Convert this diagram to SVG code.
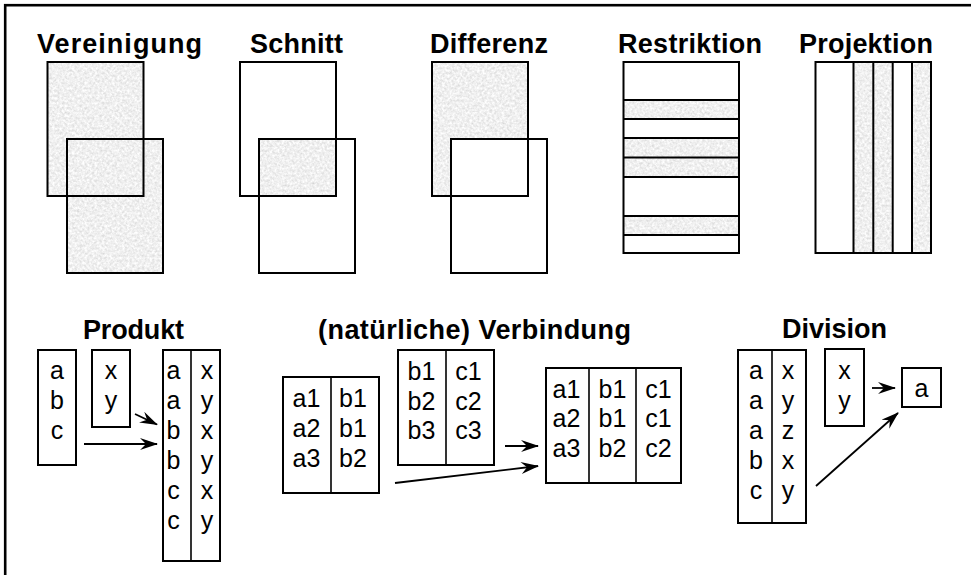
<svg xmlns="http://www.w3.org/2000/svg" width="971" height="575" viewBox="0 0 971 575">
  <defs>
    <style>
      .title { font-family: "Liberation Sans", Arial, sans-serif; font-weight: bold; font-size: 27px; fill: #000; }
      .cell { font-family: "Liberation Sans", Arial, sans-serif; font-size: 25px; fill: #000; text-anchor: middle; }
      .box { fill: none; stroke: #000; stroke-width: 2; }
      .rule { stroke: #000; stroke-width: 1.6; }
      .shade { fill: #000; filter: url(#grain); }
      .arrow { fill: none; stroke: #000; stroke-width: 1.8; marker-end: url(#head); }
    </style>
    <!-- light grey speckled fill, clipped to the shape it is applied to -->
    <filter id="grain" x="0" y="0" width="1" height="1" color-interpolation-filters="sRGB">
      <feTurbulence type="fractalNoise" baseFrequency="0.4" numOctaves="3" seed="7" result="noise"/>
      <feColorMatrix in="noise" type="matrix" values="0.22 0 0 0 0.83  0.22 0 0 0 0.83  0.22 0 0 0 0.83  0 0 0 0 1" result="grey"/>
      <feComposite in="grey" in2="SourceGraphic" operator="in"/>
    </filter>
    <marker id="head" markerUnits="userSpaceOnUse" markerWidth="20" markerHeight="14" refX="17" refY="6" orient="auto">
      <path d="M0,0 L18,6 L0,12 L6,6 Z" fill="#000"/>
    </marker>
  </defs>

  <rect width="971" height="575" fill="#fff"/>
  <!-- outer frame (only top and left edges fall inside the canvas) -->
  <rect x="5.2" y="5.2" width="1000" height="620" fill="none" stroke="#000" stroke-width="2.6"/>

  <!-- Set operations -->
  <g id="vereinigung">
    <text class="title" x="37" y="53" textLength="165" lengthAdjust="spacing">Vereinigung</text>
    <g class="shade">
      <rect x="47.5" y="62" width="96" height="134"/>
      <rect x="67" y="139" width="96" height="134"/>
    </g>
    <rect class="box" x="47.5" y="62" width="96" height="134"/>
    <rect class="box" x="67" y="139" width="96" height="134"/>
  </g>

  <g id="schnitt">
    <text class="title" x="250" y="53" textLength="93" lengthAdjust="spacing">Schnitt</text>
    <rect class="shade" x="259" y="139" width="77" height="57"/>
    <rect class="box" x="240" y="62" width="96" height="134"/>
    <rect class="box" x="259" y="139" width="96" height="134"/>
  </g>

  <g id="differenz">
    <text class="title" x="430" y="53" textLength="118" lengthAdjust="spacing">Differenz</text>
    <path class="shade" d="M432,62 H528 V139 H451 V196 H432 Z"/>
    <rect class="box" x="432" y="62" width="96" height="134"/>
    <rect class="box" x="451" y="139" width="96" height="134"/>
  </g>

  <g id="restriktion">
    <text class="title" x="618" y="53" textLength="144" lengthAdjust="spacing">Restriktion</text>
    <rect class="shade" x="623.5" y="100" width="115.5" height="19"/>
    <rect class="shade" x="623.5" y="138" width="115.5" height="39"/>
    <rect class="shade" x="623.5" y="216" width="115.5" height="19"/>
    <rect class="box" x="623.5" y="62" width="115.5" height="191"/>
    <g class="box">
      <line x1="623.5" y1="100" x2="739" y2="100"/>
      <line x1="623.5" y1="119" x2="739" y2="119"/>
      <line x1="623.5" y1="138" x2="739" y2="138"/>
      <line x1="623.5" y1="157.5" x2="739" y2="157.5"/>
      <line x1="623.5" y1="177" x2="739" y2="177"/>
      <line x1="623.5" y1="216" x2="739" y2="216"/>
      <line x1="623.5" y1="235" x2="739" y2="235"/>
    </g>
  </g>

  <g id="projektion">
    <text class="title" x="799" y="53" textLength="134" lengthAdjust="spacing">Projektion</text>
    <rect class="shade" x="853.5" y="62" width="39" height="191"/>
    <rect class="shade" x="912" y="62" width="19" height="191"/>
    <rect class="box" x="815.5" y="62" width="115.5" height="191"/>
    <g class="box">
      <line x1="853.5" y1="62" x2="853.5" y2="253"/>
      <line x1="873.3" y1="62" x2="873.3" y2="253"/>
      <line x1="892.7" y1="62" x2="892.7" y2="253"/>
      <line x1="912" y1="62" x2="912" y2="253"/>
    </g>
  </g>

  <!-- Produkt -->
  <g id="produkt-title">
    <text class="title" x="83" y="339" textLength="101" lengthAdjust="spacing">Produkt</text>
  </g>
  <g id="produkt-r">
    <rect class="box" x="38" y="350" width="38" height="115"/>
    <text class="cell" x="57" y="379">a</text>
    <text class="cell" x="57" y="409">b</text>
    <text class="cell" x="57" y="439">c</text>
  </g>
  <g id="produkt-s">
    <rect class="box" x="92" y="350" width="38" height="77"/>
    <text class="cell" x="111" y="379">x</text>
    <text class="cell" x="111" y="409">y</text>
  </g>
  <g id="produkt-result">
    <rect class="box" x="163" y="350" width="57" height="211"/>
    <line class="rule" x1="191" y1="350" x2="191" y2="561"/>
    <text class="cell" x="173.5" y="379">a</text>
    <text class="cell" x="173.5" y="409">a</text>
    <text class="cell" x="173.5" y="439">b</text>
    <text class="cell" x="173.5" y="469">b</text>
    <text class="cell" x="173.5" y="499">c</text>
    <text class="cell" x="173.5" y="529">c</text>
    <text class="cell" x="207" y="379">x</text>
    <text class="cell" x="207" y="409">y</text>
    <text class="cell" x="207" y="439">x</text>
    <text class="cell" x="207" y="469">y</text>
    <text class="cell" x="207" y="499">x</text>
    <text class="cell" x="207" y="529">y</text>
  </g>

  <!-- (natürliche) Verbindung -->
  <g id="verbindung-title">
    <text class="title" x="318" y="339" textLength="313" lengthAdjust="spacing">(natürliche) Verbindung</text>
  </g>
  <g id="verbindung-r">
    <rect class="box" x="283" y="377" width="96" height="116"/>
    <line class="rule" x1="331" y1="377" x2="331" y2="493"/>
    <text class="cell" x="306.5" y="407">a1</text>
    <text class="cell" x="306.5" y="437">a2</text>
    <text class="cell" x="306.5" y="467">a3</text>
    <text class="cell" x="353" y="407">b1</text>
    <text class="cell" x="353" y="437">b1</text>
    <text class="cell" x="353" y="467">b2</text>
  </g>
  <g id="verbindung-s">
    <rect class="box" x="398" y="350" width="96" height="115"/>
    <line class="rule" x1="446" y1="350" x2="446" y2="465"/>
    <text class="cell" x="421.5" y="380">b1</text>
    <text class="cell" x="421.5" y="409.5">b2</text>
    <text class="cell" x="421.5" y="439">b3</text>
    <text class="cell" x="468.5" y="380">c1</text>
    <text class="cell" x="468.5" y="409.5">c2</text>
    <text class="cell" x="468.5" y="439">c3</text>
  </g>
  <g id="verbindung-result">
    <rect class="box" x="546" y="368" width="135" height="115"/>
    <line class="rule" x1="589" y1="368" x2="589" y2="483"/>
    <line class="rule" x1="636" y1="368" x2="636" y2="483"/>
    <text class="cell" x="566.5" y="397.5">a1</text>
    <text class="cell" x="566.5" y="427">a2</text>
    <text class="cell" x="566.5" y="456.8">a3</text>
    <text class="cell" x="612.5" y="397.5">b1</text>
    <text class="cell" x="612.5" y="427">b1</text>
    <text class="cell" x="612.5" y="456.8">b2</text>
    <text class="cell" x="658.5" y="397.5">c1</text>
    <text class="cell" x="658.5" y="427">c1</text>
    <text class="cell" x="658.5" y="456.8">c2</text>
  </g>

  <!-- Division -->
  <g id="division-title">
    <text class="title" x="782" y="338" textLength="105" lengthAdjust="spacing">Division</text>
  </g>
  <g id="division-r">
    <rect class="box" x="738" y="350" width="68" height="173"/>
    <line class="rule" x1="772" y1="350" x2="772" y2="523"/>
    <text class="cell" x="756" y="379">a</text>
    <text class="cell" x="756" y="409">a</text>
    <text class="cell" x="756" y="439">a</text>
    <text class="cell" x="756" y="469">b</text>
    <text class="cell" x="756" y="499">c</text>
    <text class="cell" x="788" y="379">x</text>
    <text class="cell" x="788" y="409">y</text>
    <text class="cell" x="788" y="439">z</text>
    <text class="cell" x="788" y="469">x</text>
    <text class="cell" x="788" y="499">y</text>
  </g>
  <g id="division-s">
    <rect class="box" x="825" y="349" width="39" height="77"/>
    <text class="cell" x="844.5" y="378.5">x</text>
    <text class="cell" x="844.5" y="408.5">y</text>
  </g>
  <g id="division-result">
    <rect class="box" x="902" y="368" width="39" height="39"/>
    <text class="cell" x="921.5" y="397">a</text>
  </g>

  <!-- connectors -->
  <g id="connectors">
    <line class="arrow" x1="135" y1="414" x2="157" y2="424.5"/>
    <line class="arrow" x1="84" y1="444" x2="157" y2="444"/>
    <line class="arrow" x1="505" y1="446" x2="538" y2="446"/>
    <line class="arrow" x1="395" y1="483" x2="538" y2="466"/>
    <line class="arrow" x1="872" y1="388" x2="895" y2="388"/>
    <line class="arrow" x1="816" y1="486" x2="898" y2="413"/>
  </g>
</svg>
